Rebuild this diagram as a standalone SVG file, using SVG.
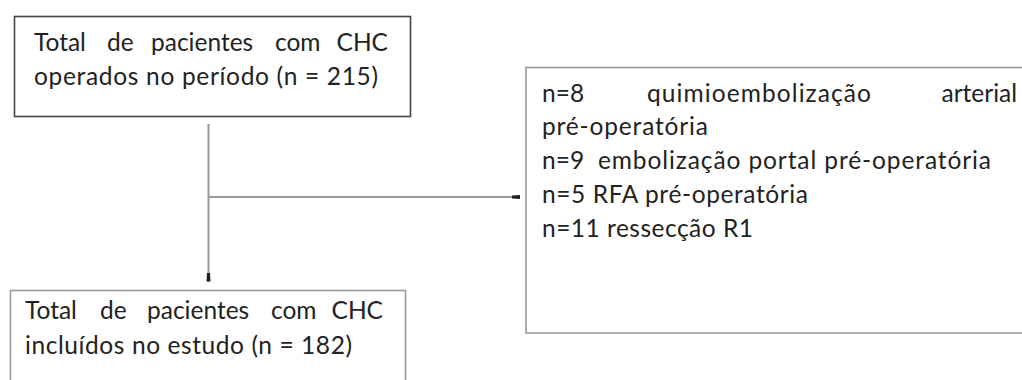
<svg xmlns="http://www.w3.org/2000/svg" width="1022" height="380" viewBox="0 0 1022 380">
<style>
.t{font-family:Lato,"Open Sans","Liberation Sans",sans-serif;font-size:24.5px;fill:#222}
.e{text-anchor:end}
.box{fill:#fff;stroke:#999;stroke-width:1.6}
.dark{stroke:#444}
.con{fill:none;stroke:#999;stroke-width:2}
</style>
<defs>
<marker id="stub" markerUnits="userSpaceOnUse" markerWidth="9" markerHeight="5" refX="8.5" refY="2.5" orient="auto">
<path d="M0,1 L8.5,0.5 L8.5,4.5 L0,4 z" fill="#222"/>
</marker>
</defs>
<g id="connectors">
<line class="con" x1="208.5" y1="124" x2="208.5" y2="281.5" marker-end="url(#stub)"/>
<line class="con" x1="208.5" y1="197" x2="520" y2="197" marker-end="url(#stub)"/>
</g>
<g id="node-operados">
<rect class="box dark" x="14.5" y="16.5" width="396" height="100"/>
<text class="t" y="51"><tspan x="34">Total</tspan><tspan x="107">de</tspan><tspan x="151">pacientes</tspan><tspan x="275">com</tspan></text>
<text class="t e" x="388" y="51">CHC</text>
<text class="t" x="34" y="85" textLength="344">operados no período (n = 215)</text>
</g>
<g id="node-exclusoes">
<rect class="box" x="526" y="67.5" width="520" height="265.5"/>
<text class="t" y="102"><tspan x="542">n=8</tspan><tspan x="647" textLength="224">quimioembolização</tspan></text>
<text class="t e" x="1017" y="102">arterial</text>
<text class="t" x="542" y="135" textLength="166">pré-operatória</text>
<text class="t" y="169"><tspan x="542">n=9</tspan><tspan x="598" textLength="393">embolização portal pré-operatória</tspan></text>
<text class="t" x="542" y="203" textLength="266">n=5 RFA pré-operatória</text>
<text class="t" x="542" y="237" textLength="211">n=11 ressecção R1</text>
</g>
<g id="node-incluidos">
<rect class="box" x="10.5" y="290.5" width="395" height="120"/>
<text class="t" y="319"><tspan x="25">Total</tspan><tspan x="100">de</tspan><tspan x="147">pacientes</tspan><tspan x="271">com</tspan></text>
<text class="t e" x="383" y="319">CHC</text>
<text class="t" x="25" y="354" textLength="327">incluídos no estudo (n = 182)</text>
</g>
</svg>
